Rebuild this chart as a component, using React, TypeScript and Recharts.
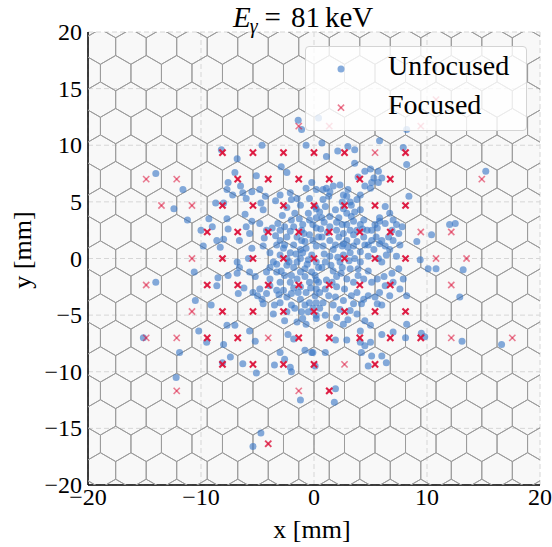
import React from 'react';
import { ScatterChart, Scatter, XAxis, YAxis, CartesianGrid, Legend } from 'recharts';

const xTicks = [-20, -10, 0, 10, 20];
const yTicks = [-20, -15, -10, -5, 0, 5, 10, 15, 20];

// Unfocused hits [x mm, y mm]
const unfocused: [number, number][] = [
  [-8.2,9.6],[-6.8,8.8],[-4.6,10.0],[-2.9,8.1],[-2.4,7.6],[-0.7,10.0],
  [-11.6,6.1],[-7.6,6.7],[-7.0,7.6],[-6.5,6.4],[-5.1,7.3],[-7.7,6.1],[-7.2,5.6],[-6.3,5.8],[-5.5,5.9],[-6.0,5.3],[-4.8,6.1],[-4.3,5.5],
  [-8.7,4.9],[-8.0,4.9],[-12.4,4.4],[-4.7,4.9],[-4.5,4.3],[-3.4,5.1],[-3.0,5.6],[-2.1,5.8],[-2.0,5.2],[-1.5,5.3],[-1.2,4.7],[-0.7,6.2],[-0.2,6.7],[0.2,6.1],[-2.4,4.5],[-0.4,5.3],[-0.5,4.0],[0.2,4.4],
  [-11.2,3.4],[-9.3,3.5],[-9.0,2.8],[-10.0,2.5],[-7.7,3.5],[-7.6,2.6],[-6.1,3.9],[-6.0,2.8],[-5.5,3.3],[-4.8,3.1],[-4.2,2.5],[-5.7,2.2],
  [-8.0,1.7],[-8.6,1.6],[-9.8,1.1],[-8.3,1.0],[-6.6,1.6],[-5.5,0.9],[-4.5,1.1],[-3.9,0.5],
  [-3.0,2.5],[-3.4,2.0],[-3.0,1.6],[-2.4,1.9],[-2.6,1.2],[-1.8,2.8],[-1.5,1.9],[-1.1,2.5],[-0.8,1.5],[-0.4,2.1],[0.2,2.7],[-0.4,3.4],[0.2,3.6],[-2.0,3.4],[-1.7,4.0],
  [-2.7,0.9],[-2.1,0.5],[-1.2,0.8],[-0.7,0.9],[-0.2,0.3],[0.2,1.1],[-3.6,-0.3],[-1.5,-0.3],[-6.8,-0.3],[-5.8,0.0],[-1.2,0.0],
  [-3.2,3.1],[-2.6,2.8],[-2.1,2.4],[-1.0,3.0],[-0.1,1.6],[0.4,1.9],[-3.0,0.3],[-2.4,0.0],[-0.5,-0.1],[0.2,-0.3],[-1.1,1.6],[-1.8,1.2],[-1.0,0.5],[-3.3,1.2],[-0.1,3.0],
  [0.7,10.2],[2.1,9.5],[3.0,9.9],[3.6,9.6],[5.8,10.4],[1.1,9.0],[3.6,8.4],[4.5,7.7],[5.0,7.9],[5.7,7.7],[3.9,7.2],[5.3,7.1],[6.0,7.1],[5.1,6.7],[5.7,6.7],[4.5,6.4],[5.0,6.2],[8.2,8.3],[8.4,5.5],
  [6.3,4.6],[6.7,4.0],[5.8,3.6],[5.4,3.0],[4.4,3.4],[3.5,3.3],[2.9,4.0],[3.3,4.7],[2.5,5.0],[2.6,5.6],[1.9,4.3],[1.0,4.6],[1.4,5.9],[1.7,6.4],[0.8,6.1],[1.3,5.5],[0.7,3.6],
  [1.4,2.8],[2.0,2.5],[2.5,3.0],[3.2,2.5],[4.1,3.0],[4.7,2.5],[5.1,2.5],[5.6,2.7],[7.3,3.0],[7.8,2.8],[6.9,2.5],[9.1,1.5],[10.4,2.1],[12.5,3.1],[12.0,3.0],
  [0.7,1.9],[1.4,1.6],[2.2,1.9],[2.9,1.6],[3.5,2.1],[4.4,1.9],[5.1,1.6],[5.8,1.3],[6.3,1.1],[4.5,1.2],[3.5,1.1],[2.5,1.1],[0.8,1.1],[1.7,0.8],[3.2,0.5],[4.1,0.6],[5.3,0.8],[6.4,0.3],[7.3,0.2],
  [1.0,-0.3],[2.3,-0.3],[4.1,-0.3],[6.0,-0.3],[0.1,4.6],
  [1.1,6.2],[2.3,6.5],[2.9,5.5],[3.2,5.0],[3.8,5.2],[2.6,4.4],[3.6,4.1],[4.1,4.3],[1.4,3.7],[2.2,3.6],[2.9,3.0],[3.8,2.5],[2.6,2.2],[1.9,1.2],[2.6,1.3],[3.8,1.5],[3.0,1.0],[4.8,1.2],[5.5,1.9],[1.4,0.2],[2.6,0.3],[3.6,0.0],[4.8,0.2],[5.7,0.0],[6.0,1.6],[6.6,1.9],[7.0,1.6],[7.6,1.2],[6.7,0.8],[0.8,5.2],[0.5,4.1],[5.8,3.3],[6.3,3.1],[7.0,3.4],[7.5,2.2],
  [-1.4,12.2],[-1.1,11.4],[8.2,11.4],[0.4,12.4],[7.9,9.8],[15.2,7.7],[-14.0,7.5],
  [-14.0,-2.1],[-15.1,-7.0],[-11.9,-8.3],[-12.2,-10.5],[-10.5,-3.7],[-10.2,-6.4],[-9.1,-4.1],[-10.6,-1.2],
  [13.2,-1.0],[12.9,-3.4],[13.1,-7.3],[16.6,-7.6],[10.1,-0.9],[10.8,-0.9],[9.4,-0.1],[9.5,-6.6],[9.8,-6.9],
  [-8.6,-2.4],[-8.5,-1.7],[-7.6,-1.5],[-6.8,-1.3],[-6.6,-0.8],[-5.7,-1.2],[-5.2,-1.6],[-6.2,-2.6],[-6.7,-3.1],[-5.4,-3.0],[-5.0,-3.3],[-4.6,-3.6],[-4.8,-2.7],[-4.2,-3.1],[-3.9,-2.4],[-3.9,-1.8],[-4.2,-1.2],[-3.3,-1.2],[-3.9,-0.8],[-2.9,-1.1],[-2.4,-0.6],[-2.0,-1.5],[-1.5,-1.8],[-0.8,-1.6],[-0.4,-2.1],[0.2,-1.9],[-0.8,-0.9],[-1.8,-0.8],[-3.0,-2.1],[-3.3,-2.8],[-2.4,-3.4],[-3.5,-4.1],[-3.6,-4.9],[-2.4,-4.7],[-1.7,-4.4],[-1.1,-4.7],[-1.0,-5.3],[-0.7,-5.8],[-0.4,-3.9],[0.1,-3.3],[-1.2,-3.6],[-2.0,-4.1],[-2.6,-5.5],[-1.5,-5.6],[-2.3,-6.7],[-1.8,-7.1],[-0.8,-8.1],[-0.2,-8.3],[-3.0,-8.3],[-2.6,-8.9],[-3.5,-9.4],[-2.0,-10.0],
  [-7.7,-5.9],[-7.0,-5.9],[-5.7,-6.4],[-5.2,-7.3],[-8.0,-7.6],[-9.5,-7.4],[-7.4,-8.7],[-8.1,-9.2],[-6.3,-9.3],[-5.1,-10.1],
  [-3.3,-0.5],[-2.6,-1.5],[-2.1,-2.1],[-1.2,-2.5],[-0.7,-3.0],[0.2,-2.7],[-0.2,-1.2],[-1.2,-1.2],[0.4,-0.8],[0.2,-3.9],[-0.8,-4.1],[-0.1,-4.4],[0.2,-5.0],[-0.5,-4.7],[-2.7,-2.8],[-2.0,-3.1],[-3.0,-3.9],[-4.5,-4.0],
  [-2.1,-9.6],[-1.2,-12.5],[-4.7,-15.4],[-5.4,-16.6],
  [0.7,-0.8],[1.7,-1.1],[2.5,-0.8],[3.2,-0.9],[3.9,-0.9],[4.8,-1.1],[5.6,-1.8],[6.2,-1.6],[7.0,-2.1],[7.6,-2.7],[8.2,-3.3],[6.7,-3.3],[6.0,-4.1],[5.6,-4.0],[4.8,-3.3],[4.2,-4.0],[3.5,-4.0],[3.3,-3.3],[2.7,-2.7],[2.0,-2.5],[1.3,-3.3],[0.8,-3.9],[1.7,-4.1],[1.0,-5.0],[2.0,-5.2],[2.6,-5.8],[3.8,-4.9],[4.5,-5.5],[5.0,-5.9],[4.1,-6.4],[6.0,-6.7],[7.0,-6.5],[8.1,-7.0],[8.2,-5.8],[1.4,-5.9],[1.9,-7.2],[2.9,-7.2],[4.1,-7.4],[4.5,-7.7],[5.0,-7.4],[4.2,-8.3],[5.1,-8.6],[6.0,-8.6],[6.4,-9.2],[4.8,-9.5],[-0.1,-8.3],[1.0,-8.3],[1.9,-11.5],[1.8,-12.7],[0.1,-9.5],
  [0.1,-1.5],[0.4,-2.1],[0.5,-3.0],[1.6,-2.1],[2.0,-1.6],[2.9,-1.8],[3.5,-2.1],[4.4,-1.8],[5.1,-2.1],[3.8,-3.0],[4.4,-3.6],[2.6,-3.7],[1.9,-3.4],[0.5,-4.4],[0.2,-5.3],[3.2,-4.6],[5.4,-3.4],[5.8,-3.0],[6.3,-2.4],[6.9,-1.3],[7.5,-0.9],[7.9,-1.8],
  [0.9,0.4],[1.2,2.3],[-0.6,-0.5],[1.1,-1.9],[-1.6,0.4],[0.6,2.6],[-0.9,2.2],[2.1,0.1],[3.1,-0.2],[-2.2,-0.3],[1.5,-0.6],[2.4,-1.3],[3.9,-1.5],[-0.3,-2.6],[-1.8,-2.6],[1.0,-2.7],[4.3,2.6],[3.3,3.7],[-1.3,3.5],[-2.8,3.8],[0.9,3.2],[2.0,3.2],[3.0,6.1],[4.1,5.6],[-3.7,2.7],[-4.4,1.8],[-3.1,-3.2],[-1.4,-3.0],[2.3,-4.5],[3.0,-5.4],
];

// Focused hits at pixel centres [x mm, y mm, number of events]
const focused: [number, number, number][] = [
  [10.8,14.03,1],
  [-1.35,11.69,1],[1.35,11.69,1],[9.45,11.69,1],
  [-8.1,9.35,3],[-5.4,9.35,3],[-2.7,9.35,3],[0,9.35,3],[2.7,9.35,3],[5.4,9.35,1],[8.1,9.35,3],
  [-14.85,7.01,1],[-12.15,7.01,1],[-6.75,7.01,3],[-4.05,7.01,3],[-1.35,7.01,3],[1.35,7.01,3],[4.05,7.01,3],[6.75,7.01,3],[14.85,7.01,1],
  [-13.5,4.68,1],[-10.8,4.68,1],[-8.1,4.68,3],[-5.4,4.68,3],[-2.7,4.68,3],[0,4.68,3],[2.7,4.68,3],[5.4,4.68,3],[8.1,4.68,3],
  [-9.45,2.34,3],[-6.75,2.34,3],[-4.05,2.34,3],[-1.35,2.34,3],[1.35,2.34,3],[4.05,2.34,3],[6.75,2.34,3],[9.45,2.34,1],[12.15,2.34,1],
  [-10.8,0,1],[-8.1,0,3],[-5.4,0,3],[-2.7,0,3],[0,0,3],[2.7,0,3],[5.4,0,3],[8.1,0,3],[10.8,0,1],[13.5,0,1],
  [-14.85,-2.34,1],[-9.45,-2.34,3],[-6.75,-2.34,3],[-4.05,-2.34,3],[-1.35,-2.34,3],[1.35,-2.34,3],[4.05,-2.34,3],[6.75,-2.34,3],[12.15,-2.34,1],
  [-10.8,-4.68,1],[-8.1,-4.68,3],[-5.4,-4.68,3],[-2.7,-4.68,3],[0,-4.68,3],[2.7,-4.68,3],[5.4,-4.68,3],[8.1,-4.68,3],
  [-14.85,-7.01,1],[-12.15,-7.01,1],[-9.45,-7.01,3],[-6.75,-7.01,3],[-4.05,-7.01,1],[-1.35,-7.01,3],[1.35,-7.01,3],[4.05,-7.01,3],[6.75,-7.01,3],[9.45,-7.01,3],[12.15,-7.01,1],[17.55,-7.01,1],
  [-8.1,-9.35,3],[-5.4,-9.35,3],[-2.7,-9.35,3],[0,-9.35,3],[2.7,-9.35,1],[5.4,-9.35,3],
  [-12.15,-11.69,1],[-1.35,-11.69,1],[1.35,-11.69,3],
  [-4.05,-16.36,2],
];

const HEX_PITCH = 2.7; // flat-to-flat pixel pitch, mm

const BLUE = '#3a77c6';
const RED = '#dc143c';
const FONT = '"Liberation Serif", "DejaVu Serif", serif';

type Pt = { x: number; y: number };

function buildHexPaths(): Pt[][] {
  const R = HEX_PITCH / Math.sqrt(3);
  const H = 1.5 * R;
  const paths: Pt[][] = [];
  for (let k = -10; k <= 10; k++) {
    const yk = k * H;
    const off = Math.abs(k) % 2 === 1 ? HEX_PITCH / 2 : 0;
    for (let phase = 0; phase < 2; phase++) {
      const pts: Pt[] = [];
      const j0 = -10, j1 = 9;
      for (let j = j0; j <= j1; j++) {
        const v = off + (j + 0.5) * HEX_PITCH;
        const goingUp = (j - j0 + phase) % 2 === 0;
        if (goingUp) {
          pts.push({ x: v, y: yk - R / 2 }, { x: v, y: yk + R / 2 });
          if (j < j1) pts.push({ x: v + HEX_PITCH / 2, y: yk + R });
        } else {
          pts.push({ x: v, y: yk + R / 2 }, { x: v, y: yk - R / 2 });
          if (j < j1) pts.push({ x: v + HEX_PITCH / 2, y: yk - R });
        }
      }
      paths.push(pts);
    }
  }
  return paths;
}

const hexPaths = buildHexPaths();
const unfocusedData = unfocused.map(([x, y]) => ({ x, y }));
const focusedData = focused.map(([x, y, n]) => ({ x, y, n }));

const fmt = (v: number) => (v < 0 ? `\u2212${Math.abs(v)}` : `${v}`);

const Empty = () => <g />;

const Dot = (props: any) => {
  const { cx, cy } = props;
  if (cx == null || cy == null) return <g />;
  return <circle cx={cx} cy={cy} r={3.5} fill={BLUE} fillOpacity={0.62} />;
};

const XMark = (props: any) => {
  const { cx, cy, payload } = props;
  if (cx == null || cy == null) return <g />;
  const n = payload?.n ?? 1;
  const op = n >= 3 ? 0.95 : n === 2 ? 0.8 : 0.55;
  const sw = n >= 3 ? 2.1 : n === 2 ? 1.9 : 1.6;
  const s = 3.1;
  return (
    <g stroke={RED} strokeWidth={sw} strokeOpacity={op}>
      <line x1={cx - s} y1={cy - s} x2={cx + s} y2={cy + s} />
      <line x1={cx - s} y1={cy + s} x2={cx + s} y2={cy - s} />
    </g>
  );
};

const XTick = (props: any) => {
  const { x, y, payload } = props;
  return (
    <text x={x} y={y + 20} textAnchor="middle" fontSize={24} fontFamily={FONT} fill="#000">
      {fmt(payload.value)}
    </text>
  );
};

const YTick = (props: any) => {
  const { x, y, payload } = props;
  return (
    <text x={x} y={y + 8} textAnchor="end" fontSize={24} fontFamily={FONT} fill="#000">
      {fmt(payload.value)}
    </text>
  );
};

const LegendBox = () => (
  <div
    style={{
      width: 222,
      height: 85,
      boxSizing: 'border-box',
      border: '1px solid #d4d4d4',
      borderRadius: 4,
      background: 'rgba(255,255,255,0.8)',
      position: 'relative',
    }}
  >
    <svg width={222} height={85} style={{ position: 'absolute', left: -1, top: -1 }}>
      <circle cx={36} cy={23} r={3.5} fill={BLUE} fillOpacity={0.62} />
      <g stroke={RED} strokeWidth={1.6} strokeOpacity={0.55}>
        <line x1={32.9} y1={58.6} x2={39.1} y2={64.8} />
        <line x1={32.9} y1={64.8} x2={39.1} y2={58.6} />
      </g>
      <text x={83} y={29} fontSize={28} fontFamily={FONT} fill="#000">Unfocused</text>
      <text x={83} y={68} fontSize={28} fontFamily={FONT} fill="#000">Focused</text>
    </svg>
  </div>
);

export default function App() {
  return (
    <div style={{ position: 'absolute', left: 0, top: 0, width: 552, height: 547, background: '#fff' }}>
      <ScatterChart width={552} height={547} margin={{ top: 32, right: 12, bottom: 0, left: 0 }}>
        <CartesianGrid fill="#f8f8f8" stroke="#d6d6d6" strokeDasharray="5 3" />
        <XAxis
          type="number"
          dataKey="x"
          domain={[-20, 20]}
          ticks={xTicks}
          interval={0}
          allowDataOverflow
          height={62}
          tickSize={0}
          tickMargin={0}
          tickLine={false}
          axisLine={{ stroke: '#000', strokeWidth: 1.5 }}
          tick={XTick}
        />
        <YAxis
          type="number"
          dataKey="y"
          domain={[-20, 20]}
          ticks={yTicks}
          interval={0}
          allowDataOverflow
          width={88}
          tickSize={0}
          tickMargin={6}
          tickLine={false}
          axisLine={{ stroke: '#000', strokeWidth: 1.5 }}
          tick={YTick}
        />
        <XAxis xAxisId="top" orientation="top" type="number" domain={[-20, 20]} height={0} tick={false} tickLine={false} axisLine={{ stroke: '#000', strokeWidth: 1.5 }} />
        <YAxis yAxisId="right" orientation="right" type="number" domain={[-20, 20]} width={0} tick={false} tickLine={false} axisLine={{ stroke: '#000', strokeWidth: 1.5 }} />
        {hexPaths.map((pts, i) => (
          <Scatter
            key={`hex-${i}`}
            data={pts}
            line={{ stroke: '#9c9c9c', strokeWidth: 1 }}
            lineType="joint"
            shape={Empty}
            legendType="none"
            isAnimationActive={false}
          />
        ))}
        <Scatter name="Unfocused" data={unfocusedData} shape={Dot} isAnimationActive={false} />
        <Scatter name="Focused" data={focusedData} shape={XMark} isAnimationActive={false} />
        <Legend
          layout="vertical"
          align="center"
          verticalAlign="middle"
          content={LegendBox}
          wrapperStyle={{ left: 305, top: 46, width: 222, height: 85 }}
        />
      </ScatterChart>
      <svg width={552} height={547} style={{ position: 'absolute', left: 0, top: 0, pointerEvents: 'none' }}>
        <text x={233} y={27} fontSize={29} fontFamily={FONT} fill="#000">
          <tspan fontStyle="italic">E</tspan>
          <tspan fontStyle="italic" fontSize={20} dy={6} dx={-1}>γ</tspan>
          <tspan dy={-6} dx={7}>=</tspan>
          <tspan dx={10}>81</tspan>
          <tspan dx={5}>keV</tspan>
        </text>
        <text x={312} y={538} fontSize={26} fontFamily={FONT} fill="#000" textAnchor="middle">x [mm]</text>
        <text transform="translate(31,250) rotate(-90)" fontSize={26} fontFamily={FONT} fill="#000" textAnchor="middle">y [mm]</text>
      </svg>
    </div>
  );
}
